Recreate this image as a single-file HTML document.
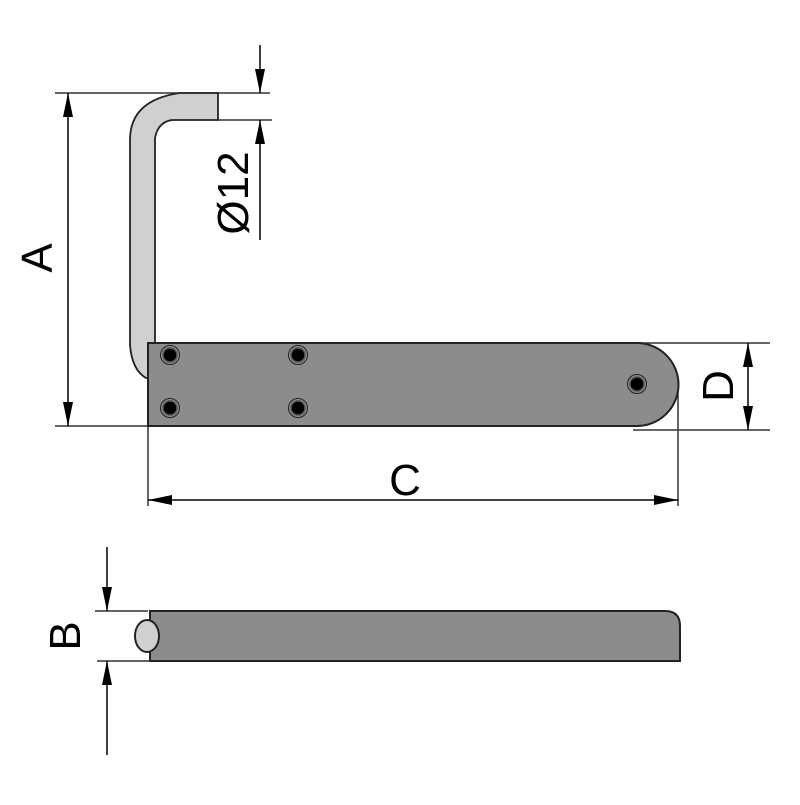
<!DOCTYPE html>
<html><head><meta charset="utf-8"><style>html,body{margin:0;padding:0;background:#fff}</style></head>
<body>
<svg width="800" height="800" viewBox="0 0 800 800" xmlns="http://www.w3.org/2000/svg">
<defs>
<marker id="ar2" viewBox="0 0 10 10" refX="10" refY="5" markerWidth="24" markerHeight="10" markerUnits="userSpaceOnUse" orient="auto-start-reverse" preserveAspectRatio="none">
<path d="M0,0 L10,5 L0,10 z" fill="#000"/></marker>
</defs>
<g stroke="#333" stroke-width="1.5" fill="none">
<line x1="55" y1="93" x2="270" y2="93"/>
<line x1="218" y1="120" x2="272" y2="120"/>
<line x1="55" y1="426" x2="148" y2="426"/>
<line x1="148" y1="426" x2="148" y2="506"/>
<line x1="678" y1="390" x2="678" y2="506"/>
<line x1="640" y1="343" x2="770" y2="343"/>
<line x1="633" y1="430" x2="770" y2="430"/>
<line x1="95" y1="611" x2="148" y2="611"/>
<line x1="97" y1="661" x2="150" y2="661"/>
</g>
<path d="M218,93 L180,93 Q130,100 130,140 L130,345 Q132,370 146,378 L152,378 L155,342 L155,138 Q158,122 172,120 L218,120 Z" fill="#d0d0d0" stroke="#222" stroke-width="1.8"/>
<path d="M148,343 L637,343 A41.5,41.5 0 0 1 637,426 L148,426 Z" fill="#8c8c8c" stroke="#222" stroke-width="2"/>
<g fill="#000" stroke="#555" stroke-width="1.5">
<circle cx="170" cy="355" r="7"/><circle cx="298" cy="355" r="7"/>
<circle cx="170" cy="408" r="7"/><circle cx="298" cy="408" r="7"/>
<circle cx="637" cy="384" r="7"/>
</g>
<g fill="none" stroke="#222" stroke-width="1">
<circle cx="170" cy="355" r="9.5"/><circle cx="298" cy="355" r="9.5"/>
<circle cx="170" cy="408" r="9.5"/><circle cx="298" cy="408" r="9.5"/>
<circle cx="637" cy="384" r="9.5"/>
</g>
<path d="M150,611 L665,611 Q680,611 680,626 L680,661 L150,661 Z" fill="#8c8c8c" stroke="#222" stroke-width="2"/>
<ellipse cx="147" cy="636" rx="12" ry="16" fill="#d0d0d0" stroke="#222" stroke-width="2"/>
<g stroke="#000" stroke-width="1.5" fill="none">
<line x1="68" y1="93" x2="68" y2="426" marker-start="url(#ar2)" marker-end="url(#ar2)"/>
<line x1="148" y1="500" x2="678" y2="500" marker-start="url(#ar2)" marker-end="url(#ar2)"/>
<line x1="748" y1="343" x2="748" y2="430" marker-start="url(#ar2)" marker-end="url(#ar2)"/>
<line x1="260" y1="45" x2="260" y2="93" marker-end="url(#ar2)"/>
<line x1="260" y1="240" x2="260" y2="120" marker-end="url(#ar2)"/>
<line x1="107" y1="547" x2="107" y2="611" marker-end="url(#ar2)"/>
<line x1="107" y1="755" x2="107" y2="661" marker-end="url(#ar2)"/>
</g>
<g font-family="Liberation Sans, sans-serif" font-size="44" fill="#000" text-anchor="middle">
<text transform="translate(52,258) rotate(-90)">A</text>
<text transform="translate(248,193) rotate(-90)">Ø12</text>
<text x="405" y="495">C</text>
<text transform="translate(733,386) rotate(-90)">D</text>
<text transform="translate(80,636) rotate(-90)">B</text>
</g>
</svg>
</body></html>
